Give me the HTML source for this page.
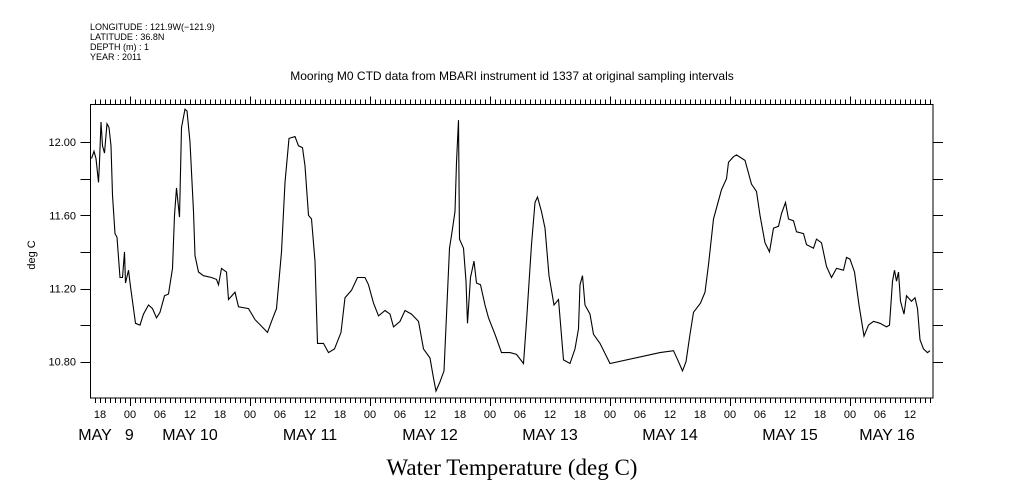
<!DOCTYPE html>
<html><head><meta charset="utf-8"><style>
html,body{margin:0;padding:0;background:#fff;}
svg{display:block;font-family:"Liberation Sans",sans-serif;}
</style></head><body>
<svg id="chart" width="1009" height="504" viewBox="0 0 1009 504" xmlns="http://www.w3.org/2000/svg">
<g font-size="9" fill="#000">
<text x="90" y="30">LONGITUDE : 121.9W(−121.9)</text>
<text x="90" y="40">LATITUDE : 36.8N</text>
<text x="90" y="50">DEPTH (m) : 1</text>
<text x="90" y="60">YEAR : 2011</text>
</g>
<text x="512" y="80" text-anchor="middle" font-size="12">Mooring M0 CTD data from MBARI instrument id 1337 at original sampling intervals</text>
<text transform="translate(35,255) rotate(-90)" text-anchor="middle" font-size="11">deg C</text>
<text x="512" y="475" text-anchor="middle" font-size="23" font-family="Liberation Serif, serif">Water Temperature (deg C)</text>
<rect x="90.5" y="104.5" width="842.5" height="293.5" fill="none" stroke="#000" stroke-width="1"/>
<g id="ticks"></g>
<g id="labels"></g>
<path id="series" fill="none" stroke="#000" stroke-width="1.1"/>
</svg>
<script>
// hours since May 9 00:00
const hours = [16.3,16.8,17.2,17.7,17.9,18.2,18.5,18.9,19.4,19.8,20.2,20.5,21.0,21.4,22.0,22.5,22.9,23.1,23.7,24.1,24.7,25.1,26.0,26.7,27.7,28.5,29.3,30.0,30.9,31.7,32.5,32.9,33.3,33.9,34.3,35.0,35.4,36.0,36.7,37.0,37.7,38.7,40.3,41.3,41.7,42.3,43.3,43.7,45.0,45.7,47.7,49.0,51.5,52.3,53.3,54.3,55.0,55.8,57.0,57.7,58.5,59.0,59.7,60.3,61.0,61.5,62.7,63.7,64.9,66.2,67.0,68.3,69.5,71.0,71.7,72.7,73.7,75.0,76.0,76.7,78.0,79.0,80.3,81.7,82.7,84.0,84.7,85.2,86.0,86.8,87.9,88.3,89.0,89.3,89.7,89.9,90.7,91.2,91.5,92.1,92.8,93.3,94.1,95.0,95.7,97.0,98.3,100.0,101.3,102.7,103.3,104.3,105.0,105.5,106.3,107.0,107.8,108.8,109.7,110.7,112.0,113.0,113.7,114.0,114.5,115.0,116.0,116.7,118.0,120.0,130.0,132.7,133.7,134.5,135.2,136.0,136.7,138.1,139.0,139.7,140.7,141.5,142.3,143.3,143.7,144.7,145.3,147.0,148.3,149.3,150.0,151.0,151.9,152.7,153.7,154.3,155.1,155.7,156.7,157.3,158.7,159.3,160.7,161.3,162.3,163.3,164.3,165.3,166.7,167.3,168.0,168.9,169.8,170.8,171.7,172.7,174.0,175.3,175.9,176.5,176.9,177.3,177.7,178.1,178.8,179.3,180.3,181.0,181.5,182.0,182.7,183.5,184.0];
const temps = [11.91,11.95,11.91,11.78,11.89,12.11,11.98,11.94,12.10,12.08,11.98,11.71,11.50,11.48,11.26,11.26,11.40,11.23,11.30,11.21,11.09,11.01,11.00,11.06,11.11,11.09,11.04,11.07,11.16,11.17,11.31,11.60,11.75,11.59,12.08,12.18,12.17,12.00,11.62,11.38,11.29,11.27,11.26,11.25,11.22,11.31,11.29,11.14,11.18,11.10,11.09,11.03,10.96,11.02,11.09,11.40,11.78,12.02,12.03,11.98,11.97,11.87,11.60,11.58,11.35,10.90,10.90,10.85,10.87,10.96,11.15,11.19,11.26,11.26,11.22,11.12,11.05,11.08,11.06,10.99,11.02,11.08,11.06,11.02,10.87,10.82,10.71,10.64,10.69,10.75,11.42,11.49,11.62,11.89,12.12,11.47,11.42,11.24,11.01,11.26,11.35,11.23,11.22,11.11,11.04,10.95,10.85,10.85,10.84,10.79,11.02,11.44,11.67,11.70,11.62,11.53,11.27,11.11,11.14,10.81,10.79,10.87,10.98,11.22,11.27,11.11,11.06,10.95,10.90,10.79,10.85,10.86,10.80,10.75,10.80,10.95,11.07,11.12,11.18,11.33,11.58,11.66,11.74,11.80,11.89,11.92,11.93,11.90,11.77,11.73,11.60,11.45,11.40,11.53,11.54,11.61,11.67,11.58,11.57,11.51,11.50,11.44,11.42,11.47,11.45,11.32,11.26,11.31,11.30,11.37,11.36,11.29,11.11,10.94,11.00,11.02,11.01,10.99,11.00,11.24,11.30,11.24,11.29,11.13,11.06,11.16,11.13,11.15,11.09,10.92,10.87,10.85,10.86];
const yTickValues = [10.8,11.0,11.2,11.4,11.6,11.8,12.0];
const yLabelValues = ["10.80","11.20","11.60","12.00"];
const hourLabels = ["00","06","12","18"];
const dayLabels = ["MAY   9","MAY 10","MAY 11","MAY 12","MAY 13","MAY 14","MAY 15","MAY 16"];

const NS="http://www.w3.org/2000/svg";
const X = h => 130 + (h-24)*5;
const Y = v => 361.7 - (v-10.8)*183;
const L=90.5,R=933,T=104.5,B=398;

let d="";
hours.forEach((h,i)=>{d+=(i?"L":"M")+X(h).toFixed(1)+","+Y(temps[i]).toFixed(1);});
document.getElementById('series').setAttribute('d',d);

const tg=document.getElementById('ticks');
function line(x1,y1,x2,y2,name){
  const l=document.createElementNS(NS,'line');
  l.setAttribute('x1',x1);l.setAttribute('y1',y1);l.setAttribute('x2',x2);l.setAttribute('y2',y2);
  l.setAttribute('stroke','#000');l.setAttribute('stroke-width','1');
  
  
  tg.appendChild(l);
}
for(let h=17;h<=184;h++){
  const x=Math.round(X(h))+0.5, major=(h%24===0);
  line(x,T,x,T-(major?8:5),'top-tick');
  line(x,B,x,B+(major?8:5),'bottom-tick');
}
yTickValues.forEach(v=>{
  const y=Math.round(Y(v))+0.5;
  line(L-10,y,L,y,'left-tick');
  line(R,y,R+10,y,'right-tick');
});
const lg=document.getElementById('labels');
function txt(x,y,s,size,anchor,name){
  const t=document.createElementNS(NS,'text');
  t.setAttribute('x',x);t.setAttribute('y',y);t.setAttribute('font-size',size);
  t.setAttribute('text-anchor',anchor);
  t.style.whiteSpace='pre';
  t.textContent=s;
  
  
  lg.appendChild(t);
}
yLabelValues.forEach(s=>{ txt(76,Y(parseFloat(s))+4,s,11,'end','y-tick-label'); });
for(let h=18;h<=180;h+=6){
  txt(X(h),418,hourLabels[(h%24)/6],11,'middle','x-hour-label');
}
dayLabels.forEach((s,i)=>{
  let x = X(12+24*i);
  if(i===0) x=106;
  if(i===dayLabels.length-1) x=887;
  txt(x,440,s,16,'middle','x-day-label');
});
</script>
</body></html>
